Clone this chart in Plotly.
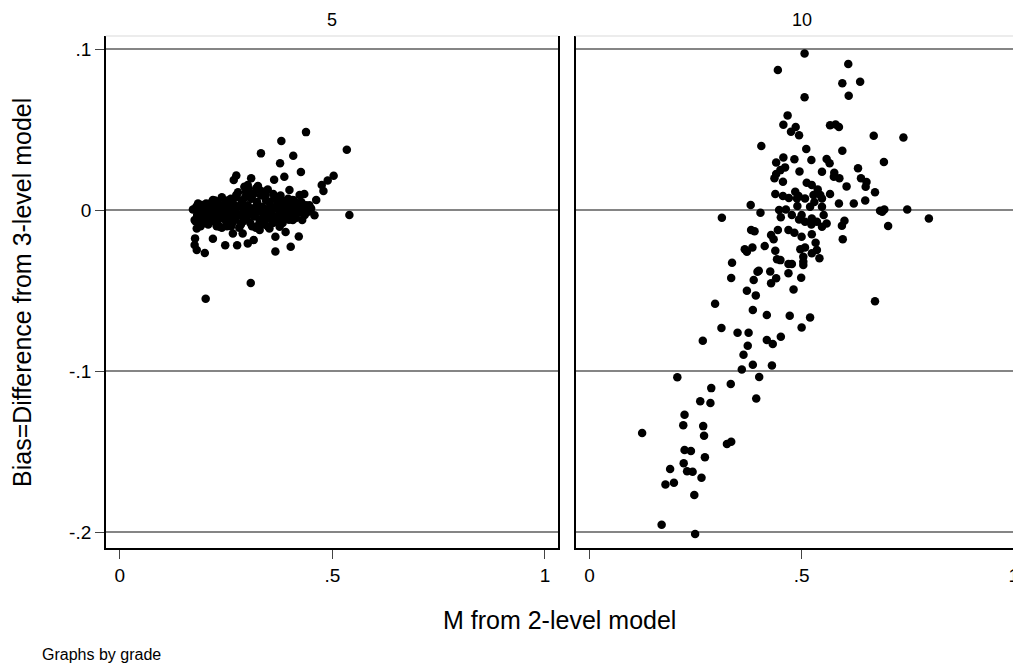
import plotly.graph_objects as go

# ---------------- data ----------------
panel_titles = ["5", "10"]
x_tickvals = [0, 0.5, 1]
x_ticktext = ["0", ".5", "1"]
y_tickvals = [0.1, 0, -0.1, -0.2]
y_ticktext = [".1", "0", "-.1", "-.2"]

# grade 5 : M from 2-level model / bias
grade5_x = [
    0.438, 0.380, 0.534, 0.332, 0.408, 0.377, 0.426, 0.387, 0.363, 0.503,
    0.489, 0.475, 0.479, 0.274, 0.268, 0.309, 0.301, 0.325, 0.348, 0.399,
    0.434, 0.462, 0.540, 0.458, 0.429, 0.219, 0.177, 0.176, 0.181, 0.200,
    0.248, 0.276, 0.301, 0.315, 0.366, 0.402, 0.366, 0.421, 0.390, 0.329,
    0.308, 0.202, 0.172, 0.176, 0.181, 0.195, 0.192, 0.219, 0.240, 0.258,
    0.274, 0.297, 0.321, 0.340, 0.376, 0.407, 0.423, 0.235, 0.266, 0.289,
    0.352, 0.376, 0.407, 0.293,
    0.180, 0.182, 0.178, 0.186, 0.190, 0.195, 0.198, 0.200, 0.205, 0.208,
    0.212, 0.215, 0.218, 0.222, 0.226, 0.230, 0.233, 0.236, 0.240, 0.243,
    0.246, 0.250, 0.253, 0.256, 0.259, 0.262, 0.266, 0.269, 0.272, 0.275,
    0.279, 0.282, 0.285, 0.288, 0.291, 0.294, 0.298, 0.301, 0.304, 0.307,
    0.310, 0.313, 0.316, 0.320, 0.323, 0.326, 0.329, 0.332, 0.335, 0.338,
    0.341, 0.344, 0.347, 0.350, 0.354, 0.357, 0.360, 0.363, 0.366, 0.369,
    0.372, 0.376, 0.379, 0.382, 0.385, 0.388, 0.392, 0.395, 0.398, 0.402,
    0.405, 0.409, 0.413, 0.417, 0.421, 0.425, 0.430, 0.435, 0.440, 0.446,
    0.184, 0.188, 0.192, 0.196, 0.203, 0.206, 0.210, 0.214, 0.220, 0.224,
    0.228, 0.232, 0.238, 0.242, 0.248, 0.252, 0.257, 0.261, 0.265, 0.270,
    0.274, 0.278, 0.281, 0.286, 0.290, 0.295, 0.300, 0.303, 0.306, 0.311,
    0.315, 0.318, 0.322, 0.327, 0.331, 0.336, 0.340, 0.343, 0.348, 0.352,
    0.356, 0.361, 0.365, 0.370, 0.374, 0.378, 0.383, 0.387, 0.391, 0.396,
    0.400, 0.404, 0.410, 0.414, 0.419, 0.427, 0.432, 0.438, 0.443, 0.450,
]
grade5_y = [
    0.0484, 0.0429, 0.0375, 0.0352, 0.0337, 0.0290, 0.0236, 0.0207, 0.0188, 0.0213,
    0.0184, 0.0155, 0.0118, 0.0215, 0.0186, 0.0197, 0.0155, 0.0149, 0.0128, 0.0124,
    0.0099, 0.0062, -0.0031, -0.0033, -0.0062, -0.0178, -0.0176, -0.0217, -0.0248, -0.0267,
    -0.0219, -0.0219, -0.0207, -0.0186, -0.0257, -0.0228, -0.0166, -0.0164, -0.0137, -0.0124,
    -0.0453, -0.0551, 0.0004, -0.0062, -0.0114, -0.0083, 0.0031, 0.0062, 0.0079, 0.0052,
    0.0093, 0.0114, 0.0135, 0.0114, 0.0062, 0.0062, 0.0093, -0.0104, -0.0145, -0.0145,
    -0.0114, -0.0104, -0.0062, 0.0145,
    0.002, -0.003, -0.007, 0.000, -0.010, 0.003, -0.002, -0.006, 0.001, -0.009,
    0.004, -0.001, -0.005, 0.002, -0.008, 0.005, 0.000, -0.004, -0.011, 0.003,
    -0.002, -0.007, 0.006, 0.001, -0.004, -0.010, 0.004, -0.001, -0.006, 0.008,
    0.002, -0.003, -0.009, 0.006, 0.000, -0.005, 0.010, 0.003, -0.002, -0.008,
    0.007, 0.001, -0.004, -0.011, 0.005, -0.001, -0.006, 0.009, 0.002, -0.003,
    -0.009, 0.006, 0.000, -0.005, 0.003, -0.002, -0.008, 0.007, 0.001, -0.004,
    0.004, -0.001, -0.007, 0.006, 0.000, -0.004, 0.003, -0.002, -0.006, 0.005,
    0.000, -0.003, 0.002, -0.002, 0.004, -0.001, 0.002, -0.003, 0.001, 0.003,
    0.004, -0.005, 0.001, -0.008, 0.004, -0.003, -0.007, 0.002, -0.003, 0.006,
    -0.010, -0.006, 0.001, -0.004, 0.005, -0.010, -0.002, 0.007, -0.008, 0.003,
    -0.002, 0.011, -0.011, 0.004, -0.007, 0.008, -0.004, 0.013, 0.000, -0.010,
    0.010, -0.002, 0.003, -0.009, 0.012, 0.000, -0.006, 0.009, -0.010, 0.005,
    -0.004, 0.010, -0.007, 0.002, -0.004, 0.009, -0.008, 0.003, -0.002, 0.007,
    -0.004, 0.002, 0.006, -0.005, 0.000, 0.005, -0.002, 0.003, -0.001, 0.001,
]

# grade 10 : M from 2-level model / bias
grade10_x = [
    0.444, 0.507, 0.610, 0.596, 0.638, 0.611, 0.507, 0.467, 0.457, 0.486,
    0.475, 0.494, 0.567, 0.580, 0.588, 0.670, 0.740, 0.405, 0.511, 0.596,
    0.457, 0.483, 0.523, 0.559, 0.566, 0.694, 0.440, 0.461, 0.450, 0.440,
    0.436, 0.456, 0.495, 0.548, 0.577, 0.576, 0.589, 0.633, 0.640, 0.653,
    0.651, 0.673, 0.606, 0.512, 0.524, 0.538, 0.544, 0.567, 0.438, 0.456,
    0.485, 0.493, 0.528, 0.508, 0.650, 0.489, 0.548, 0.588, 0.623, 0.470,
    0.530, 0.403, 0.447, 0.463, 0.490, 0.520, 0.548, 0.451, 0.477, 0.500,
    0.494, 0.508, 0.524, 0.536, 0.552, 0.559, 0.548, 0.523, 0.601, 0.595,
    0.597, 0.685, 0.695, 0.690, 0.749, 0.704, 0.800, 0.444, 0.469, 0.483,
    0.500, 0.524, 0.428, 0.434, 0.413, 0.438, 0.497, 0.508, 0.533, 0.536,
    0.524, 0.542, 0.504, 0.504, 0.504, 0.442, 0.450, 0.469, 0.477, 0.399,
    0.426, 0.469, 0.440, 0.428, 0.499, 0.481, 0.673, 0.418, 0.472, 0.520,
    0.500, 0.451, 0.418, 0.432, 0.380, 0.312, 0.381, 0.389, 0.366, 0.371,
    0.384, 0.336, 0.396, 0.334, 0.387, 0.371, 0.392, 0.296, 0.385, 0.311,
    0.349, 0.375, 0.267, 0.373, 0.363, 0.385, 0.359, 0.430, 0.207, 0.400,
    0.333, 0.287, 0.393, 0.261, 0.285, 0.224, 0.221, 0.268, 0.270, 0.124,
    0.324, 0.334, 0.224, 0.239, 0.272, 0.222, 0.230, 0.243, 0.190, 0.179,
    0.199, 0.264, 0.247, 0.170, 0.249,
]
grade10_y = [
    0.0870, 0.0973, 0.0907, 0.0787, 0.0797, 0.0710, 0.0700, 0.0588, 0.0530, 0.0516,
    0.0486, 0.0464, 0.0526, 0.0532, 0.0516, 0.0462, 0.0451, 0.0398, 0.0379, 0.0369,
    0.0327, 0.0315, 0.0311, 0.0317, 0.0290, 0.0298, 0.0295, 0.0265, 0.0248, 0.0224,
    0.0197, 0.0176, 0.0240, 0.0238, 0.0232, 0.0207, 0.0197, 0.0259, 0.0197, 0.0174,
    0.0145, 0.0110, 0.0147, 0.0170, 0.0155, 0.0128, 0.0093, 0.0099, 0.0099, 0.0087,
    0.0114, 0.0087, 0.0093, 0.0072, 0.0060, 0.0072, 0.0072, 0.0041, 0.0041, 0.0075,
    0.0050, -0.0017, 0.0000, 0.0004, 0.0025, 0.0021, 0.0021, -0.0045, -0.0031, -0.0031,
    -0.0058, -0.0072, -0.0052, -0.0072, -0.0031, -0.0083, -0.0104, -0.0089, -0.0066, -0.0098,
    -0.0182, -0.0004, 0.0004, -0.0010, 0.0004, -0.0099, -0.0052, -0.0124, -0.0124, -0.0141,
    -0.0166, -0.0151, -0.0155, -0.0182, -0.0224, -0.0253, -0.0244, -0.0232, -0.0203, -0.0248,
    -0.0269, -0.0300, -0.0290, -0.0321, -0.0342, -0.0306, -0.0311, -0.0335, -0.0335, -0.0377,
    -0.0381, -0.0393, -0.0424, -0.0455, -0.0420, -0.0493, -0.0567, -0.0652, -0.0656, -0.0667,
    -0.0729, -0.0787, -0.0807, -0.0832, 0.0031, -0.0048, -0.0124, -0.0132, -0.0244, -0.0259,
    -0.0232, -0.0327, -0.0383, -0.0422, -0.0435, -0.0501, -0.0530, -0.0582, -0.0621, -0.0733,
    -0.0762, -0.0762, -0.0812, -0.0843, -0.0899, -0.0961, -0.0990, -0.0965, -0.1039, -0.1037,
    -0.1081, -0.1106, -0.1170, -0.1188, -0.1199, -0.1271, -0.1337, -0.1342, -0.1402, -0.1385,
    -0.1453, -0.1439, -0.1491, -0.1497, -0.1536, -0.1573, -0.1623, -0.1625, -0.1609, -0.1704,
    -0.1694, -0.1663, -0.1770, -0.1955, -0.2012,
]

# ---------------- figure ----------------
# the page body adds an 8px margin; lay out in screen pixels and convert
OFF = 8
FW, FH = 1021 - OFF, 668 - OFF
FONT = "Liberation Sans, Arial, sans-serif"


def px(x):
    return (x - OFF) / FW


def py(y):
    return 1 - (y - OFF) / FH


fig = go.Figure()
marker = dict(color="black", size=8.5, line=dict(width=0))
fig.add_trace(go.Scatter(x=grade5_x, y=grade5_y, mode="markers", marker=marker,
                         xaxis="x", yaxis="y", showlegend=False, hoverinfo="x+y"))
fig.add_trace(go.Scatter(x=grade10_x, y=grade10_y, mode="markers", marker=marker,
                         xaxis="x2", yaxis="y2", showlegend=False, hoverinfo="x+y"))

left_dom = [px(106), px(559)]
right_dom = [px(576.7), 1.0]
y_dom = [py(548), py(36)]
x_range_left = [-0.0329, 1.0305]
x_range_right = [-0.0329, 1.0125]
y_range = [-0.2099, 0.1081]

xcommon = dict(
    tickvals=x_tickvals, ticktext=x_ticktext, ticks="outside", ticklen=9,
    tickwidth=1.3, tickcolor="#444", showgrid=False, zeroline=False,
    showline=True, linecolor="black", linewidth=1.5, mirror=False,
    tickfont=dict(family=FONT, size=19, color="black"),
)
ycommon = dict(
    range=y_range, domain=y_dom, tickvals=y_tickvals, showgrid=True,
    gridcolor="#858585", gridwidth=1.5, zeroline=False,
    showline=True, linecolor="black", linewidth=1.5, mirror=True,
)

fig.update_layout(
    width=FW, height=FH,
    margin=dict(l=0, r=0, t=0, b=0),
    paper_bgcolor="white", plot_bgcolor="white",
    font=dict(family=FONT, color="black"),
    xaxis=dict(domain=left_dom, range=x_range_left, anchor="y", **xcommon),
    xaxis2=dict(domain=right_dom, range=x_range_right, anchor="y2", **xcommon),
    yaxis=dict(anchor="x", ticktext=y_ticktext, ticks="outside", ticklen=9,
               tickwidth=1.3, tickcolor="#444",
               tickfont=dict(family=FONT, size=19, color="black"), **ycommon),
    yaxis2=dict(anchor="x2", showticklabels=False, ticks="", **ycommon),
)

# light top border of each panel
for dom in (left_dom, right_dom):
    fig.add_shape(type="line", xref="paper", yref="paper",
                  x0=dom[0], x1=dom[1], y0=y_dom[1], y1=y_dom[1],
                  line=dict(color="#e6e6e6", width=1.5))

# panel titles (anchored at the top of the figure so they are not clipped)
fig.add_annotation(text=panel_titles[0], xref="x", x=0.5, yref="paper", y=1.0,
                   showarrow=False, xanchor="center", yanchor="top",
                   font=dict(family=FONT, size=18, color="black"))
fig.add_annotation(text=panel_titles[1], xref="x2", x=0.5, yref="paper", y=1.0,
                   showarrow=False, xanchor="center", yanchor="top",
                   font=dict(family=FONT, size=18, color="black"))

# axis titles
fig.add_annotation(text="Bias=Difference from 3-level model", xref="paper",
                   yref="paper", x=px(22), y=py(292), textangle=-90,
                   showarrow=False, xanchor="center", yanchor="middle",
                   font=dict(family=FONT, size=25, color="black"))
fig.add_annotation(text="M from 2-level model", xref="paper", yref="paper",
                   x=px(561), y=py(620), showarrow=False,
                   xanchor="center", yanchor="middle",
                   font=dict(family=FONT, size=25, color="black"))
fig.add_annotation(text="Graphs by grade", xref="paper", yref="paper",
                   x=px(40), y=py(654), showarrow=False,
                   xanchor="left", yanchor="middle",
                   font=dict(family=FONT, size=16, color="black"))

fig.write_html("out.html")
